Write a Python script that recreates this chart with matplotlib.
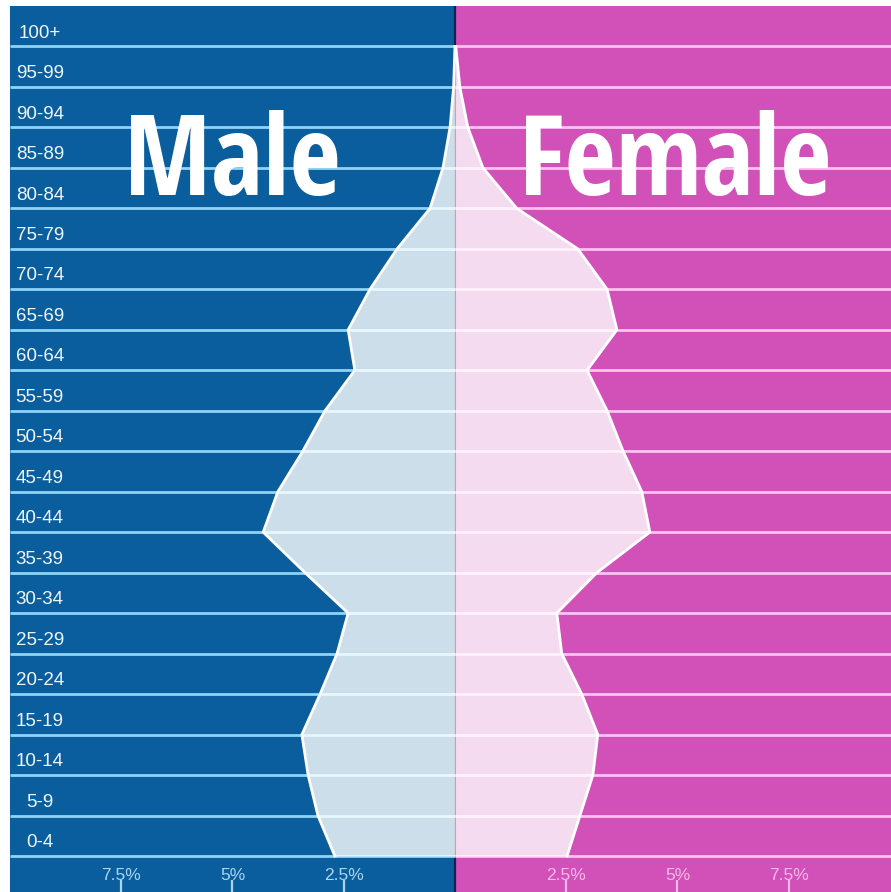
import numpy as np
import matplotlib
matplotlib.use("Agg")
import matplotlib.pyplot as plt
from matplotlib import font_manager as fm
from matplotlib.textpath import TextPath

# Age groups, youngest first
age_groups = ["0-4", "5-9", "10-14", "15-19", "20-24", "25-29", "30-34",
              "35-39", "40-44", "45-49", "50-54", "55-59", "60-64", "65-69",
              "70-74", "75-79", "80-84", "85-89", "90-94", "95-99", "100+"]

# Share of total population (%)
male_pct = [2.70, 3.08, 3.30, 3.44, 3.03, 2.65, 2.40, 3.37, 4.31, 3.98,
            3.42, 2.92, 2.25, 2.40, 1.91, 1.30, 0.56, 0.27, 0.11, 0.03, 0.0]
female_pct = [2.52, 2.81, 3.10, 3.21, 2.85, 2.40, 2.29, 3.19, 4.38, 4.20,
              3.78, 3.42, 2.97, 3.64, 3.42, 2.76, 1.39, 0.63, 0.29, 0.11, 0.02]

tick_values = [-7.5, -5, -2.5, 2.5, 5, 7.5]
tick_labels = ["7.5%", "5%", "2.5%", "2.5%", "5%", "7.5%"]

BLUE = "#0b5e9e"
MAGENTA = "#d151b9"
BLUE_GRID = "#8fd3f7"
PINK_GRID = "#ffc2f1"
BLUE_TEXT = "#a9d6f2"
PINK_TEXT = "#f8b9ea"

SANS_FAMILIES = ("dejavu sans", "liberation sans", "noto sans", "roboto",
                 "open sans", "lato", "inter")


def narrowest_bold_font():
    """Pick the narrowest bold grotesque face among the plain sans families."""
    best, best_ratio = None, None
    seen = set()
    for f in fm.fontManager.ttflist:
        w = f.weight if isinstance(f.weight, int) else fm.weight_dict.get(f.weight, 400)
        name = f.name.lower()
        if w < 600 or f.fname in seen or not name.startswith(SANS_FAMILIES):
            continue
        if any(k in name + f.fname.lower() for k in ("cjk", "mono", "math", "italic", "oblique")):
            continue
        seen.add(f.fname)
        try:
            prop = fm.FontProperties(fname=f.fname)
            ext = TextPath((0, 0), "Male", prop=prop, size=100).get_extents()
            cap = TextPath((0, 0), "M", prop=prop, size=100).get_extents()
            ratio = ext.width / cap.height
        except Exception:
            continue
        if best_ratio is None or ratio < best_ratio:
            best, best_ratio = prop, ratio
    if best is None:
        best = fm.FontProperties(family="DejaVu Sans", weight="bold",
                                 stretch="condensed")
    return best


headline_font = narrowest_bold_font()

fig = plt.figure(figsize=(8.91, 8.92), dpi=100)
fig.patch.set_facecolor("white")
ax = fig.add_axes([10 / 891, 0, 881 / 891, 886 / 892])

xmin, xmax = -10.0, 9.8
ymin, ymax = -0.89, 21.0
ax.set_xlim(xmin, xmax)
ax.set_ylim(ymin, ymax)

# Two coloured halves
ax.axvspan(xmin, 0, color=BLUE, zorder=0, lw=0)
ax.axvspan(0, xmax, color=MAGENTA, zorder=0, lw=0)
ax.axvline(0, color="#0a2550", lw=1.6, zorder=1)

# Row separators
n = len(age_groups)
rows = np.arange(n)
ax.hlines(rows, xmin, 0, color=BLUE_GRID, lw=2.0, zorder=2)
ax.hlines(rows, 0, xmax, color=PINK_GRID, lw=2.0, zorder=2)

# Pyramid
male = -np.array(male_pct)
female = np.array(female_pct)
ax.fill_betweenx(rows, male, 0, color="white", alpha=0.8, lw=0, zorder=3)
ax.fill_betweenx(rows, 0, female, color="white", alpha=0.8, lw=0, zorder=3)
ax.plot(male, rows, color="white", lw=2.0, zorder=4, solid_joinstyle="miter")
ax.plot(female, rows, color="white", lw=2.0, zorder=4, solid_joinstyle="miter")

# Age labels
for i, lab in enumerate(age_groups):
    ax.text(-9.33, i + 0.33, lab, ha="center", va="center", color="#eef6fb",
            fontsize=13.5, family=["Liberation Sans", "DejaVu Sans"], zorder=5)

# Headlines
ax.text(-5.0, 16.32, "Male", ha="center", va="baseline", color="white",
        fontproperties=headline_font, fontsize=80, zorder=5)
ax.text(4.95, 16.32, "Female", ha="center", va="baseline", color="white",
        fontproperties=headline_font, fontsize=80, zorder=5)

# Bottom axis ticks
ax.set_xticks(tick_values)
ax.set_xticklabels(tick_labels, family=["Liberation Sans", "DejaVu Sans"],
                   fontsize=12.5)
ax.tick_params(axis="x", direction="in", length=8.5, width=1.6, pad=-17.5)
for t, lbl, v in zip(ax.xaxis.get_major_ticks(), ax.get_xticklabels(), tick_values):
    c = BLUE_TEXT if v < 0 else PINK_TEXT
    t.tick1line.set_markeredgecolor(c)
    lbl.set_color(c)
    lbl.set_zorder(6)
ax.set_yticks([])
for s in ax.spines.values():
    s.set_visible(False)

fig.savefig("out.png", dpi=100, facecolor="white")
